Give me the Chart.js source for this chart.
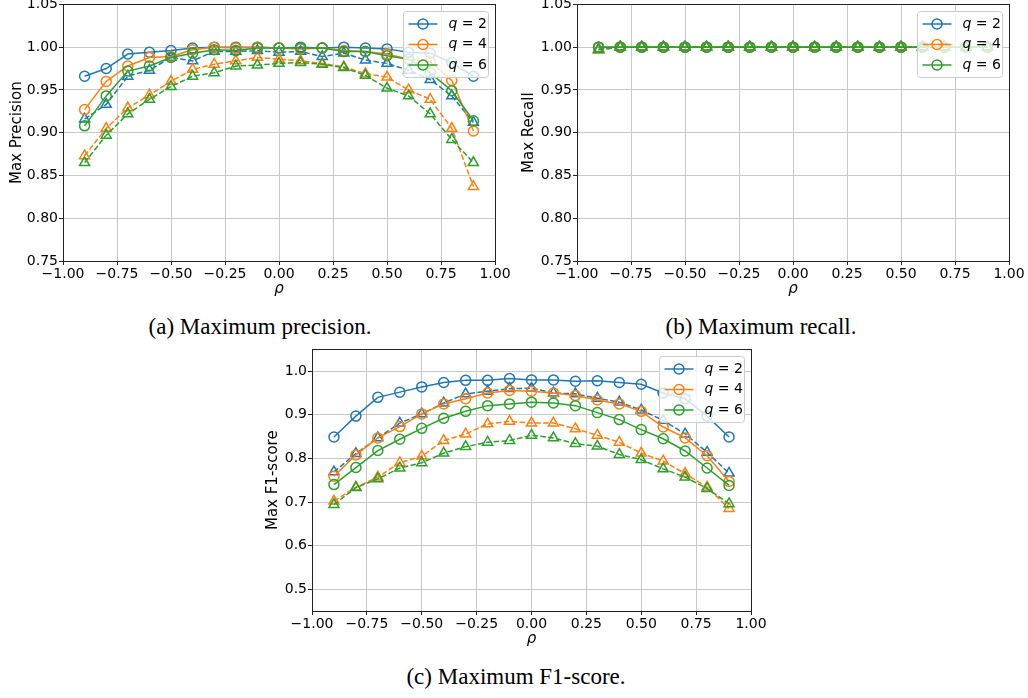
<!DOCTYPE html>
<html>
<head>
<meta charset="utf-8">
<script src="https://cdn.jsdelivr.net/npm/chart.js@4.4.1/dist/chart.umd.min.js"></script>
<style>
  body { margin: 0; background: #fff; width: 1028px; height: 698px; position: relative; overflow: hidden; }
  canvas { position: absolute; }
  .caption {
    position: absolute;
    font-family: 'Liberation Serif', 'Times New Roman', serif;
    font-size: 23px;
    line-height: 23px;
    color: #000;
    white-space: nowrap;
    transform: translateX(-50%);
  }
</style>
</head>
<body>
<canvas id="precChart" width="525" height="305" style="left:0;top:-5px"></canvas>
<canvas id="recallChart" width="528" height="305" style="left:500px;top:-5px"></canvas>
<canvas id="f1Chart" width="520" height="310" style="left:250px;top:340px"></canvas>
<div class="caption" style="left:260px;top:315px">(a) Maximum precision.</div>
<div class="caption" style="left:761px;top:315px">(b) Maximum recall.</div>
<div class="caption" style="left:516px;top:665px">(c) Maximum F1-score.</div>
<script>
const Chart = window.Chart

// rho values on the x axis
const rho = [-0.9, -0.8, -0.7, -0.6, -0.5, -0.4, -0.3, -0.2, -0.1, 0, 0.1, 0.2, 0.3, 0.4, 0.5, 0.6, 0.7, 0.8, 0.9]
const qLabels = ['2', '4', '6']
const colors = ['#1f77b4', '#ff7f0e', '#2ca02c']

// tick labels
const rhoTicks = [-1, -0.75, -0.5, -0.25, 0, 0.25, 0.5, 0.75, 1]
const scoreTicks = [0.75, 0.8, 0.85, 0.9, 0.95, 1.0, 1.05]
const f1Ticks = [0.5, 0.6, 0.7, 0.8, 0.9, 1.0]

// (a) max precision: solid = circles, dashed = triangles
const precQ2 = [0.966, 0.975, 0.992, 0.994, 0.996, 0.999, 1.000, 1.000, 1.000, 0.999, 1.000, 0.999, 1.000, 0.999, 0.998, 0.994, 0.993, 0.982, 0.966]
const precQ4 = [0.927, 0.960, 0.978, 0.988, 0.989, 0.997, 1.000, 0.999, 1.000, 0.999, 0.998, 0.999, 0.996, 0.995, 0.992, 0.986, 0.983, 0.961, 0.902]
const precQ6 = [0.908, 0.943, 0.972, 0.978, 0.988, 0.993, 0.997, 0.996, 0.999, 0.999, 0.999, 0.999, 0.995, 0.995, 0.990, 0.986, 0.970, 0.949, 0.914]
const precQ2Dash = [0.916, 0.933, 0.966, 0.973, 0.988, 0.984, 0.995, 0.995, 0.996, 0.994, 0.995, 0.989, 0.993, 0.985, 0.981, 0.973, 0.962, 0.943, 0.912]
const precQ4Dash = [0.873, 0.905, 0.929, 0.944, 0.960, 0.974, 0.980, 0.984, 0.988, 0.986, 0.984, 0.981, 0.977, 0.969, 0.965, 0.950, 0.939, 0.905, 0.837]
const precQ6Dash = [0.865, 0.897, 0.922, 0.939, 0.954, 0.966, 0.970, 0.978, 0.979, 0.981, 0.982, 0.980, 0.976, 0.967, 0.952, 0.943, 0.922, 0.892, 0.865]

// (b) max recall
const recQ2 = [1.000, 1.000, 1.000, 1.000, 1.000, 1.000, 1.000, 1.000, 1.000, 1.000, 1.000, 1.000, 1.000, 1.000, 1.000, 1.000, 1.000, 1.000, 1.000]
const recQ4 = [1.000, 1.000, 1.000, 1.000, 1.000, 1.000, 1.000, 1.000, 1.000, 1.000, 1.000, 1.000, 1.000, 1.000, 1.000, 1.000, 1.000, 1.000, 1.000]
const recQ6 = [1.000, 1.000, 1.000, 1.000, 1.000, 1.000, 1.000, 1.000, 1.000, 1.000, 1.000, 1.000, 1.000, 1.000, 1.000, 1.000, 1.000, 1.000, 1.000]
const recQ2Dash = [0.998, 1.000, 1.000, 1.000, 1.000, 1.000, 1.000, 1.000, 1.000, 1.000, 1.000, 1.000, 1.000, 1.000, 1.000, 1.000, 1.000, 1.000, 1.000]
const recQ4Dash = [0.997, 1.000, 1.000, 1.000, 1.000, 1.000, 1.000, 1.000, 1.000, 1.000, 1.000, 1.000, 1.000, 1.000, 1.000, 1.000, 1.000, 1.000, 1.000]
const recQ6Dash = [0.997, 1.000, 1.000, 1.000, 1.000, 1.000, 1.000, 1.000, 1.000, 1.000, 1.000, 1.000, 1.000, 1.000, 1.000, 1.000, 1.000, 1.000, 1.000]

// (c) max F1-score
const f1Q2 = [0.849, 0.897, 0.940, 0.952, 0.964, 0.974, 0.979, 0.979, 0.983, 0.980, 0.980, 0.977, 0.978, 0.974, 0.970, 0.950, 0.937, 0.897, 0.849]
const f1Q4 = [0.759, 0.808, 0.847, 0.873, 0.902, 0.925, 0.937, 0.950, 0.956, 0.954, 0.950, 0.944, 0.934, 0.925, 0.908, 0.872, 0.847, 0.806, 0.747]
const f1Q6 = [0.740, 0.779, 0.818, 0.844, 0.869, 0.892, 0.908, 0.921, 0.925, 0.929, 0.927, 0.921, 0.905, 0.889, 0.866, 0.845, 0.817, 0.778, 0.738]
const f1Q2Dash = [0.769, 0.811, 0.847, 0.881, 0.902, 0.927, 0.948, 0.954, 0.960, 0.961, 0.950, 0.948, 0.938, 0.929, 0.911, 0.887, 0.856, 0.814, 0.766]
const f1Q4Dash = [0.702, 0.734, 0.757, 0.790, 0.805, 0.841, 0.856, 0.879, 0.885, 0.881, 0.881, 0.868, 0.853, 0.837, 0.812, 0.794, 0.765, 0.734, 0.685]
const f1Q6Dash = [0.694, 0.733, 0.753, 0.778, 0.790, 0.812, 0.827, 0.837, 0.841, 0.853, 0.847, 0.834, 0.828, 0.809, 0.797, 0.776, 0.757, 0.731, 0.696]

const FONT = "'DejaVu Sans', sans-serif"
Chart.defaults.font.family = FONT
Chart.defaults.font.size = 14
Chart.defaults.color = '#000'

const fmtNum = (v, digits) => (v < 0 ? '\u2212' : '') + Math.abs(v).toFixed(digits)

// black frame around the plot area
const frame = {
  id: 'frame',
  afterDatasetsDraw (chart) {
    const { ctx, chartArea: a } = chart
    ctx.save()
    ctx.strokeStyle = '#222'
    ctx.lineWidth = 1
    ctx.strokeRect(Math.round(a.left) + 0.5, Math.round(a.top) + 0.5, Math.round(a.right - a.left), Math.round(a.bottom - a.top))
    ctx.restore()
  }
}

// matplotlib style legend box inside the upper right corner
const legendBox = {
  id: 'legendBox',
  afterDraw (chart) {
    const { ctx, chartArea: a } = chart
    const w = 85
    const h = 66
    const x = Math.round(a.right - 7 - w) + 0.5
    const y = Math.round(a.top + 7) + 0.5
    ctx.save()
    ctx.fillStyle = 'rgba(255,255,255,0.8)'
    ctx.strokeStyle = '#cccccc'
    ctx.lineWidth = 1
    ctx.beginPath()
    ctx.roundRect(x, y, w, h, 3)
    ctx.fill()
    ctx.stroke()
    qLabels.forEach((q, i) => {
      const cy = y + 12.5 + i * 20.5
      ctx.strokeStyle = colors[i]
      ctx.lineWidth = 1.5
      ctx.beginPath()
      ctx.moveTo(x + 5, cy)
      ctx.lineTo(x + 34, cy)
      ctx.stroke()
      ctx.beginPath()
      ctx.arc(x + 19.5, cy, 5, 0, Math.PI * 2)
      ctx.stroke()
      ctx.fillStyle = '#000'
      ctx.textBaseline = 'middle'
      ctx.font = 'italic 14px ' + FONT
      ctx.fillText('q', x + 45, cy)
      const qw = ctx.measureText('q').width
      ctx.font = '14px ' + FONT
      ctx.fillText(' = ' + q, x + 45 + qw, cy)
    })
    ctx.restore()
  }
}

// plotted in matplotlib order: later series end up on top (lower order)
function series (values, i, dashed) {
  return {
    data: rho.map((r, k) => ({ x: r, y: values[k] })),
    order: 10 - (i * 2 + (dashed ? 1 : 0)),
    borderColor: colors[i],
    backgroundColor: 'rgba(0,0,0,0)',
    borderWidth: 1.5,
    borderDash: dashed ? [5.5, 2.4] : [],
    pointStyle: dashed ? 'triangle' : 'circle',
    pointRadius: dashed ? 5.8 : 5,
    pointBorderWidth: 1.5,
    pointBorderColor: colors[i],
    pointBackgroundColor: 'rgba(0,0,0,0)',
    tension: 0,
    clip: false
  }
}

function makeChart (canvas, solids, dashes, opt) {
  const datasets = []
  solids.forEach((s, i) => {
    datasets.push(series(s, i, false))
    datasets.push(series(dashes[i], i, true))
  })
  return new Chart(canvas, {
    type: 'line',
    data: { datasets },
    plugins: [frame, legendBox],
    options: {
      responsive: false,
      animation: false,
      layout: { padding: opt.padding },
      plugins: { legend: { display: false }, tooltip: { enabled: false } },
      scales: {
        x: {
          type: 'linear',
          min: -1,
          max: 1,
          afterBuildTicks: s => { s.ticks = rhoTicks.map(v => ({ value: v })) },
          afterFit: s => { s.height = 39 },
          ticks: { callback: v => fmtNum(v, 2), padding: 1, maxRotation: 0, autoSkip: false, font: { family: FONT, size: 14 } },
          grid: { color: '#c8c8c8', lineWidth: 1, tickColor: '#222', tickLength: 4 },
          border: { display: false },
          title: { display: true, text: '\u03c1', font: { family: FONT, style: 'italic', size: 15 }, padding: { top: 0, bottom: 2 } }
        },
        y: {
          min: opt.yMin,
          max: opt.yMax,
          afterBuildTicks: s => { s.ticks = opt.yTicks.map(v => ({ value: v })) },
          afterFit: s => { s.width = opt.yWidth },
          ticks: { callback: v => v.toFixed(opt.digits), padding: 1, autoSkip: false, font: { family: FONT, size: 14 } },
          grid: { color: '#c8c8c8', lineWidth: 1, tickColor: '#222', tickLength: 4 },
          border: { display: false },
          title: { display: true, text: opt.yLabel, font: { family: FONT, size: 15 }, padding: { top: opt.titlePad, bottom: 0 } }
        }
      }
    }
  })
}

makeChart(document.getElementById('precChart'),
  [precQ2, precQ4, precQ6], [precQ2Dash, precQ4Dash, precQ6Dash],
  { yMin: 0.75, yMax: 1.05, yTicks: scoreTicks, digits: 2, yLabel: 'Max Precision', yWidth: 63, titlePad: 8.5, padding: { top: 9, right: 30, left: 0, bottom: 0 } })

makeChart(document.getElementById('recallChart'),
  [recQ2, recQ4, recQ6], [recQ2Dash, recQ4Dash, recQ6Dash],
  { yMin: 0.75, yMax: 1.05, yTicks: scoreTicks, digits: 2, yLabel: 'Max Recall', yWidth: 77, titlePad: 20, padding: { top: 9, right: 19, left: 0, bottom: 0 } })

makeChart(document.getElementById('f1Chart'),
  [f1Q2, f1Q4, f1Q6], [f1Q2Dash, f1Q4Dash, f1Q6Dash],
  { yMin: 0.45, yMax: 1.05, yTicks: f1Ticks, digits: 1, yLabel: 'Max F1-score', yWidth: 62, titlePad: 14, padding: { top: 8.5, right: 19, left: 0, bottom: 0 } })
</script>
</body>
</html>
